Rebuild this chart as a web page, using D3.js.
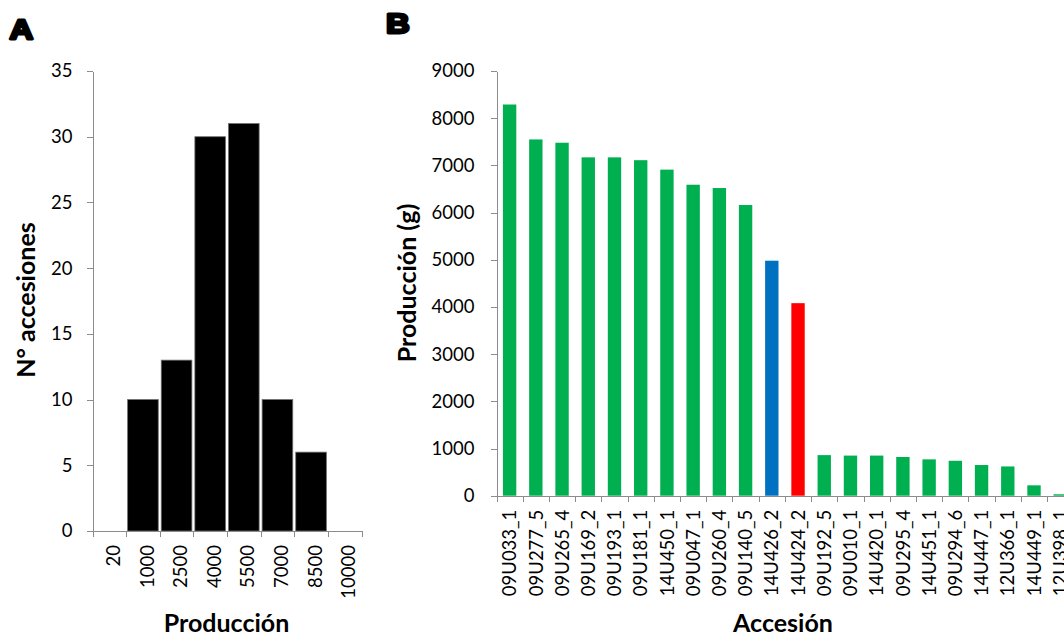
<!DOCTYPE html>
<html>
<head>
<meta charset="utf-8">
<script src="https://cdn.jsdelivr.net/npm/d3@7"></script>
<style>
  html, body { margin: 0; padding: 0; background: #fff; }
  svg { display: block; }
  text { font-family: Lato, "Open Sans", sans-serif; fill: #000; }
</style>
</head>
<body>
<svg id="fig" width="1064" height="636"></svg>
<script>
// Panel A: histogram of production classes
const classLabels = ["20", "1000", "2500", "4000", "5500", "7000", "8500", "10000"];
const classCounts = [0, 10, 13, 30, 31, 10, 6, 0];
const countTicks = [0, 5, 10, 15, 20, 25, 30, 35];

// Panel B: production per accession
const accessions = ["09U033_1", "09U277_5", "09U265_4", "09U169_2", "09U193_1", "09U181_1",
  "14U450_1", "09U047_1", "09U260_4", "09U140_5", "14U426_2", "14U424_2", "09U192_5",
  "09U010_1", "14U420_1", "09U295_4", "14U451_1", "09U294_6", "14U447_1", "12U366_1",
  "14U449_1", "12U398_1"];
const production = [8290, 7550, 7480, 7170, 7170, 7110, 6910, 6590, 6520, 6160, 4980, 4080,
  860, 850, 850, 820, 770, 740, 650, 620, 220, 30];
const barColors = ["#00B050", "#00B050", "#00B050", "#00B050", "#00B050", "#00B050",
  "#00B050", "#00B050", "#00B050", "#00B050", "#0070C0", "#FF0000", "#00B050",
  "#00B050", "#00B050", "#00B050", "#00B050", "#00B050", "#00B050", "#00B050",
  "#00B050", "#00B050"];
const prodTicks = [0, 1000, 2000, 3000, 4000, 5000, 6000, 7000, 8000, 9000];

const svg = d3.select("#fig");
const AXIS = "#8c8c8c";
const TICK_FONT = "18.5px";
const TITLE_FONT = "25px";

function styleAxis(g) {
  g.selectAll("path, line").attr("stroke", AXIS).attr("stroke-width", 1).attr("shape-rendering", "crispEdges");
  g.selectAll("text").style("font-size", TICK_FONT).attr("fill", "#000");
}

// Panel letters
function panelLetter(txt, x, y) {
  svg.append("text")
    .attr("transform", `translate(${x},${y}) scale(1.15,1)`)
    .style("font-family", "'Liberation Sans', Arial, sans-serif")
    .style("font-weight", "bold")
    .style("font-size", "28.5px")
    .attr("stroke", "#000").attr("stroke-width", 2.8).attr("stroke-linejoin", "round")
    .text(txt);
}
panelLetter("A", 9.5, 38.5);
panelLetter("B", 386, 32.5);

// ---------- Panel A ----------
{
  const left = 92.5, right = 361.5, top = 71, bottom = 531;
  const x = d3.scaleBand().domain(classLabels).range([left, right]).padding(0);
  const xi = d3.scaleLinear().domain([0, classLabels.length]).range([left, right]);
  const y = d3.scaleLinear().domain([0, 35]).range([bottom, top]);

  const g = svg.append("g");
  const inset = 1.5;
  g.selectAll("rect").data(classCounts).join("rect")
    .attr("x", (d, i) => x(classLabels[i]) + inset)
    .attr("width", x.bandwidth() - 2 * inset)
    .attr("y", d => y(d))
    .attr("height", d => y(0) - y(d))
    .attr("fill", "#000")
    .attr("stroke", "#6e6e6e").attr("stroke-width", 0.8)
    .style("display", d => d > 0 ? null : "none");

  const ya = g.append("g").attr("transform", `translate(${left},0)`)
    .call(d3.axisLeft(y).tickValues(countTicks).tickFormat(d3.format("d"))
      .tickSize(6).tickPadding(14).tickSizeOuter(0));
  styleAxis(ya);

  const xa = g.append("g").attr("transform", `translate(0,${bottom})`)
    .call(d3.axisBottom(xi).tickValues(d3.range(classLabels.length + 1)).tickFormat("").tickSize(6).tickSizeOuter(0));
  styleAxis(xa);
  xa.select("path.domain").attr("d", `M${left - 6},0.5H${right}`);

  g.selectAll("text.xl").data(classLabels).join("text")
    .attr("class", "xl")
    .attr("transform", d => `translate(${x(d) + x.bandwidth() / 2 + 4},${bottom + 14}) rotate(-90)`)
    .attr("text-anchor", "end")
    .attr("dy", "0.36em")
    .style("font-size", TICK_FONT)
    .text(d => d);

  g.append("text")
    .attr("transform", `translate(35,300) rotate(-90)`)
    .attr("text-anchor", "middle")
    .style("font-weight", "bold").style("font-size", TITLE_FONT)
    .text("N° accesiones");

  g.append("text")
    .attr("x", 226.5).attr("y", 632)
    .attr("text-anchor", "middle")
    .style("font-weight", "bold").style("font-size", TITLE_FONT)
    .text("Producción");
}

// ---------- Panel B ----------
{
  const left = 496.5, step = 26.22, top = 71, bottom = 495.7;
  const right = left + step * accessions.length;
  const x = d3.scaleBand().domain(accessions).range([left, right])
    .paddingInner(0.49).paddingOuter(0.245);
  const xi = d3.scaleLinear().domain([0, accessions.length]).range([left, right]);
  const y = d3.scaleLinear().domain([0, 9000]).range([bottom, top]);

  const g = svg.append("g");
  g.selectAll("rect").data(production).join("rect")
    .attr("x", (d, i) => x(accessions[i]))
    .attr("width", x.bandwidth())
    .attr("y", d => y(d))
    .attr("height", d => y(0) - y(d))
    .attr("fill", (d, i) => barColors[i]);

  const ya = g.append("g").attr("transform", `translate(${left},0)`)
    .call(d3.axisLeft(y).tickValues(prodTicks).tickFormat(d3.format("d"))
      .tickSize(6).tickPadding(16).tickSizeOuter(0));
  styleAxis(ya);

  const xa = g.append("g").attr("transform", `translate(0,${bottom})`)
    .call(d3.axisBottom(xi).tickValues(d3.range(accessions.length + 1)).tickFormat("").tickSize(6).tickSizeOuter(0));
  styleAxis(xa);
  xa.select("path.domain").attr("d", `M${left - 6},0.5H${right}`);

  g.selectAll("text.xl").data(accessions).join("text")
    .attr("class", "xl")
    .attr("transform", d => `translate(${x(d) + x.bandwidth() / 2},${bottom + 14}) rotate(-90)`)
    .attr("text-anchor", "end")
    .attr("dy", "0.36em")
    .style("font-size", TICK_FONT)
    .text(d => d);

  g.append("text")
    .attr("transform", `translate(416,283) rotate(-90)`)
    .attr("text-anchor", "middle")
    .style("font-weight", "bold").style("font-size", TITLE_FONT)
    .text("Producción (g)");

  g.append("text")
    .attr("x", 783).attr("y", 632)
    .attr("text-anchor", "middle")
    .style("font-weight", "bold").style("font-size", TITLE_FONT)
    .text("Accesión");
}
</script>
</body>
</html>
